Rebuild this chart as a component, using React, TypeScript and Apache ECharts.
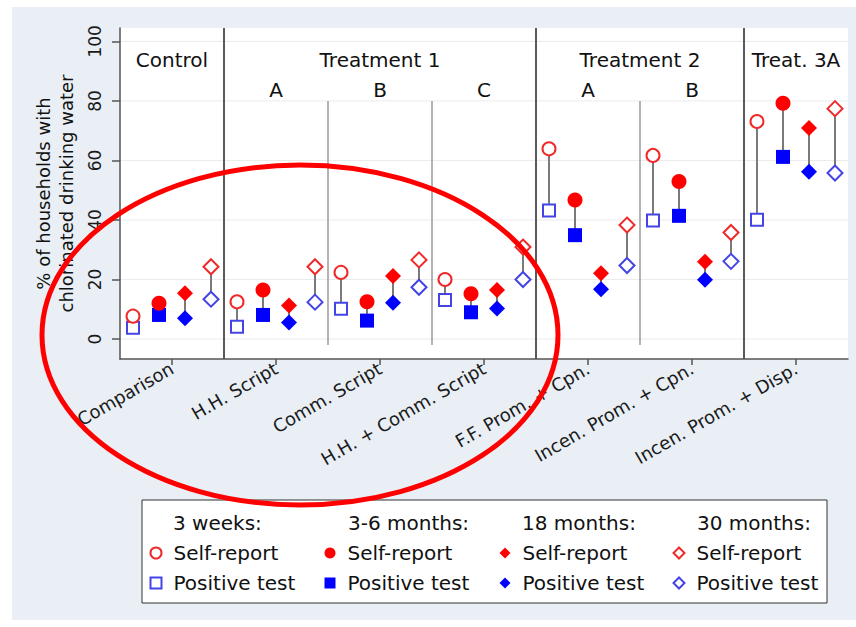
import React, { useEffect, useRef } from 'react';
import * as echarts from 'echarts';

const categories = [
  'Comparison',
  'H.H. Script',
  'Comm. Script',
  'H.H. + Comm. Script',
  'F.F. Prom. + Cpn.',
  'Incen. Prom. + Cpn.',
  'Incen. Prom. + Disp.',
];
const categoryIndex = [0, 1, 2, 3, 4, 5, 6];

const selfReport3w = [7.7, 12.5, 22.4, 20.0, 63.9, 61.7, 73.1];
const posTest3w = [3.8, 4.1, 10.2, 13.1, 43.2, 39.8, 40.1];
const selfReport36m = [12.0, 16.5, 12.5, 15.2, 46.7, 52.9, 79.2];
const posTest36m = [8.1, 8.1, 6.2, 9.0, 34.9, 41.4, 61.2];
const selfReport18m = [15.4, 11.3, 21.2, 16.5, 22.1, 26.0, 70.9];
const posTest18m = [7.0, 5.6, 12.2, 10.3, 16.7, 19.9, 56.2];
const selfReport30m = [24.3, 24.3, 26.6, 30.9, 38.3, 35.8, 77.4];
const posTest30m = [13.4, 12.4, 17.4, 20.0, 24.7, 26.1, 55.8];

const timeLabels = ['3 weeks:', '3-6 months:', '18 months:', '30 months:'];
const timeOffsets = [-0.375, -0.125, 0.125, 0.375];
const yTicks = [0, 20, 40, 60, 80, 100];

const groupHeaders = ['Control', 'Treatment 1', 'Treatment 2', 'Treat. 3A'];
const groupCenters = [0, 2, 4.5, 6];
const subHeaders = ['A', 'B', 'C', 'A', 'B'];
const subHeaderCenters = [1, 2, 3, 4, 5];
const majorDividers = [0.5, 3.5, 5.5];
const minorDividers = [1.5, 2.5, 4.5];

const FONT = 'DejaVu Sans';
const X_MIN = -0.5;
const X_MAX = 6.5;
const Y_MIN = -6.7;
const Y_MAX = 104.5;
const GROUP_ROW_Y = 93.6;
const SUB_ROW_Y = 83.8;
const RED = '#ff0000';
const RED_H = '#ee2a2a';
const BLUE = '#0000ff';
const BLUE_H = '#4444e4';

const timepoints = [
  { self: selfReport3w, test: posTest3w, sSym: 'emptyCircle', tSym: 'emptyRect', sSize: 13, tSize: 12, sCol: RED_H, tCol: BLUE_H },
  { self: selfReport36m, test: posTest36m, sSym: 'circle', tSym: 'rect', sSize: 15, tSize: 14, sCol: RED, tCol: BLUE },
  { self: selfReport18m, test: posTest18m, sSym: 'diamond', tSym: 'diamond', sSize: 16, tSize: 16, sCol: RED, tCol: BLUE },
  { self: selfReport30m, test: posTest30m, sSym: 'emptyDiamond', tSym: 'emptyDiamond', sSize: 15, tSize: 15, sCol: RED_H, tCol: BLUE_H },
];

function baseGraphic(): any[] {
  const headerLefts = [173, 348, 522, 697];
  return [
    { type: 'rect', shape: { x: 0, y: 0, width: 856, height: 7 }, style: { fill: '#fff' }, silent: true },
    { type: 'rect', shape: { x: 0, y: 0, width: 12, height: 627 }, style: { fill: '#fff' }, silent: true },
    { type: 'rect', shape: { x: 0, y: 620, width: 856, height: 7 }, style: { fill: '#fff' }, silent: true },
    {
      type: 'rect',
      shape: { x: 142, y: 500, width: 685, height: 103 },
      style: { fill: '#fff', stroke: '#333', lineWidth: 1 },
      silent: true,
    },
    ...timeLabels.map((txt, i) => ({
      type: 'text',
      x: headerLefts[i],
      y: 523,
      style: { text: txt, fill: '#111', font: `20px "${FONT}"`, align: 'left', verticalAlign: 'middle' },
      silent: true,
    })),
    {
      type: 'ellipse',
      z: 100,
      shape: { cx: 300, cy: 335, rx: 258, ry: 170 },
      style: { fill: 'none', stroke: '#ff0000', lineWidth: 5 },
      silent: true,
    },
  ];
}

function buildOption(): any {
  const series: any[] = [];
  const legends: any[] = [];
  const legendLefts = [149.5, 324.5, 499.5, 672.5];

  const dividerData: any[] = [
    ...majorDividers.map((x) => [x, Y_MAX, Y_MIN, 1]),
    ...minorDividers.map((x) => [x, 80, -2, 0]),
  ];
  series.push({
    type: 'custom',
    name: 'dividers',
    silent: true,
    z: 1,
    data: dividerData,
    encode: { x: 0, y: [1, 2] },
    renderItem: (params: any, api: any) => {
      const x = api.value(0);
      const p1 = api.coord([x, api.value(1)]);
      const p2 = api.coord([x, api.value(2)]);
      const major = api.value(3) === 1;
      return {
        type: 'line',
        shape: { x1: p1[0], y1: p1[1], x2: p2[0], y2: p2[1] },
        style: { stroke: major ? '#5a5a5a' : '#9a9a9a', lineWidth: major ? 2 : 1.5 },
      };
    },
  });

  series.push({
    type: 'custom',
    name: 'gridlines',
    silent: true,
    z: 0,
    data: yTicks.map((v) => [X_MIN, v]),
    renderItem: (params: any, api: any) => {
      const v = api.value(1);
      const p1 = api.coord([X_MIN, v]);
      const p2 = api.coord([X_MAX, v]);
      return {
        type: 'line',
        shape: { x1: p1[0], y1: p1[1], x2: p2[0], y2: p2[1] },
        style: { stroke: '#ebebeb', lineWidth: 1 },
      };
    },
  });

  timepoints.forEach((tp, t) => {
    const off = timeOffsets[t];
    const sName = `Self-report (${timeLabels[t]})`;
    const tName = `Positive test (${timeLabels[t]})`;
    series.push({
      type: 'custom',
      name: `conn${t}`,
      silent: true,
      z: 2,
      data: categoryIndex.map((i) => [i + off, tp.self[i], tp.test[i]]),
      encode: { x: 0, y: [1, 2] },
      renderItem: (params: any, api: any) => {
        const x = api.value(0);
        const p1 = api.coord([x, api.value(1)]);
        const p2 = api.coord([x, api.value(2)]);
        return {
          type: 'line',
          shape: { x1: p1[0], y1: p1[1], x2: p2[0], y2: p2[1] },
          style: { stroke: '#7a7a7a', lineWidth: 2 },
        };
      },
    });
    const mk = (name: string, vals: number[], sym: string, size: number, col: string) => ({
      type: 'scatter',
      name,
      z: 3,
      symbol: sym,
      symbolSize: size,
      itemStyle: sym.startsWith('empty')
        ? { color: col, borderColor: col, borderWidth: 2, opacity: 1 }
        : { color: col, opacity: 1 },
      data: categoryIndex.map((i) => [i + off, vals[i]]),
    });
    series.push(mk(tName, tp.test, tp.tSym, tp.tSize, tp.tCol));
    series.push(mk(sName, tp.self, tp.sSym, tp.sSize, tp.sCol));
    legends.push({
      data: [sName, tName],
      orient: 'vertical',
      left: legendLefts[t],
      top: 543,
      padding: 0,
      itemWidth: 11,
      itemHeight: 11,
      itemGap: 10,
      selectedMode: false,
      formatter: (n: string) => n.split(' (')[0],
      textStyle: { fontSize: 20, lineHeight: 20, color: '#111', fontFamily: FONT, padding: [0, 0, 0, 7] },
    });
  });

  return {
    animation: false,
    backgroundColor: '#e9eff5',
    textStyle: { fontFamily: FONT },
    grid: {
      left: 120,
      right: 8,
      top: 28,
      bottom: 268,
      show: true,
      backgroundColor: '#ffffff',
      borderWidth: 0,
    },
    xAxis: {
      type: 'value',
      min: X_MIN,
      max: X_MAX,
      axisLine: { show: true, onZero: false, lineStyle: { color: '#555', width: 1.5 } },
      axisTick: { show: true, inside: false, length: 6, customValues: categoryIndex, lineStyle: { color: '#555', width: 1.5 } },
      axisLabel: {
        customValues: categoryIndex,
        formatter: (v: number) => categories[Math.round(v)] ?? '',
        rotate: 30,
        fontSize: 18,
        color: '#1a1a1a',
        margin: 8,
        fontFamily: FONT,
      },
      splitLine: { show: false },
      splitArea: { show: false },
    },
    yAxis: {
      type: 'value',
      min: Y_MIN,
      max: Y_MAX,
      axisLine: { show: true, onZero: false, lineStyle: { color: '#555', width: 1.5 } },
      axisTick: { show: true, inside: false, length: 8, customValues: yTicks, lineStyle: { color: '#555', width: 1.5 } },
      axisLabel: { customValues: yTicks, rotate: 90, fontSize: 17, color: '#1a1a1a', margin: 17, fontFamily: FONT },
      splitLine: { show: false },
      splitArea: { show: false },
      name: '% of households with\nchlorinated drinking water',
      nameLocation: 'middle',
      nameRotate: 90,
      nameGap: 40,
      nameTextStyle: { fontSize: 18, lineHeight: 23, color: '#111', fontFamily: FONT },
    },
    legend: legends,
    graphic: baseGraphic(),
    series,
  };
}

export default function App() {
  const ref = useRef<HTMLDivElement>(null);
  useEffect(() => {
    document.body.style.margin = '0';
    const chart = echarts.init(ref.current!, null, { renderer: 'svg' });
    chart.setOption(buildOption());
    const toPx = (x: number, y: number) => chart.convertToPixel({ seriesIndex: 0 }, [x, y]) as number[];
    const headerEls: any[] = [];
    groupHeaders.forEach((h, i) => headerEls.push({ text: h, p: toPx(groupCenters[i], GROUP_ROW_Y) }));
    subHeaders.forEach((h, i) => headerEls.push({ text: h, p: toPx(subHeaderCenters[i], SUB_ROW_Y) }));
    chart.setOption({
      graphic: [
        ...baseGraphic(),
        ...headerEls.map((e) => ({
          type: 'text',
          x: e.p[0],
          y: e.p[1],
          z: 5,
          silent: true,
          style: {
            text: e.text,
            fill: '#111',
            font: `20px "${FONT}"`,
            align: 'center',
            verticalAlign: 'middle',
          },
        })),
      ],
    });
    return () => chart.dispose();
  }, []);
  return <div ref={ref} style={{ width: 856, height: 627 }} />;
}
